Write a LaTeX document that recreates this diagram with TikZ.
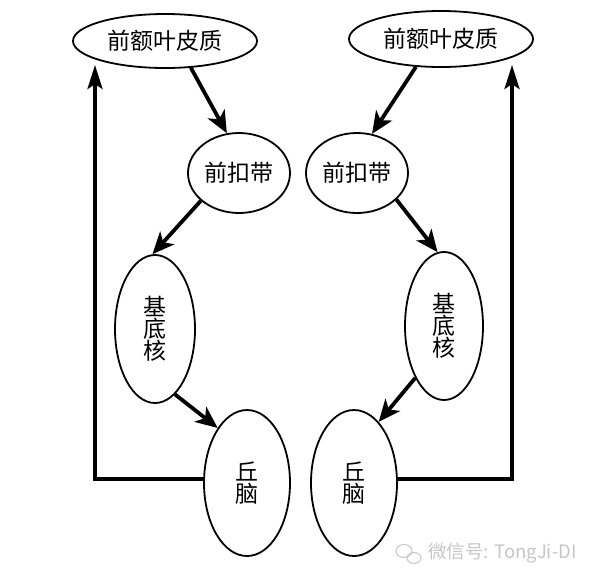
\documentclass[tikz,border=0pt]{standalone}
\usepackage{fontspec}
\newfontfamily\cjk{Noto Sans CJK SC}
\usetikzlibrary{shapes.geometric,arrows.meta}
\tikzset{
  region/.style={ellipse,draw,line width=1.8pt,inner sep=0pt,font=\cjk\fontsize{23}{26}\selectfont,align=center},
  flow/.style={line width=3.8pt,-{Stealth[length=22pt,width=19pt,inset=6pt]}},
  feedback/.style={line width=3.8pt,-{Stealth[length=24pt,width=15pt,inset=5pt]}},
}
\begin{document}
\begin{tikzpicture}[x=1pt,y=-1pt]
\useasboundingbox[fill=white] (0,0) rectangle (599,582);
% left circuit
\node[region,minimum width=184pt,minimum height=54pt] (pfcL) at (165,41) {前额叶皮质};
\node[region,minimum width=102pt,minimum height=80pt] (accL) at (239,173) {前扣带};
\node[region,minimum width=80pt,minimum height=148pt] (bgL) at (155,329) {基\\[-4pt]底\\[-4pt]核};
\node[region,minimum width=86pt,minimum height=146pt] (thL) at (247,483) {丘\\[-4pt]脑};
% right circuit
\node[region,minimum width=184pt,minimum height=56pt] (pfcR) at (441,39) {前额叶皮质};
\node[region,minimum width=102pt,minimum height=80pt] (accR) at (357,173) {前扣带};
\node[region,minimum width=78pt,minimum height=148pt] (bgR) at (444,326) {基\\[-4pt]底\\[-4pt]核};
\node[region,minimum width=86pt,minimum height=146pt] (thR) at (354,483) {丘\\[-4pt]脑};
% feedback ends
\coordinate (fbL) at (95,65);
\coordinate (fbR) at (512,65);
% connectors
\draw[flow] (pfcL.-46) -- (accL.107);
\draw[flow] (accL.216) -- (bgL.92);
\draw[flow] (bgL.-73) -- (thL.118);
\draw[flow] (pfcR.228) -- (accR.69);
\draw[flow] (accR.-34) -- (bgR.95);
\draw[flow] (bgR.241) -- (thR.68);
\draw[feedback] (thL.175) -| (fbL);
\draw[feedback] (thR.5) -| (fbR);
% watermark
\node[inner sep=0pt,text=black!22,font=\cjk\fontsize{18.5}{21}\selectfont,anchor=west] (wm) at (428,553) {微信号: TongJi-DI};
\draw[black!22,line width=1pt] (404,551) ellipse (8pt and 6.5pt);
\draw[black!22,line width=1pt] (414,558) ellipse (7pt and 5.5pt);
\end{tikzpicture}
\end{document}
